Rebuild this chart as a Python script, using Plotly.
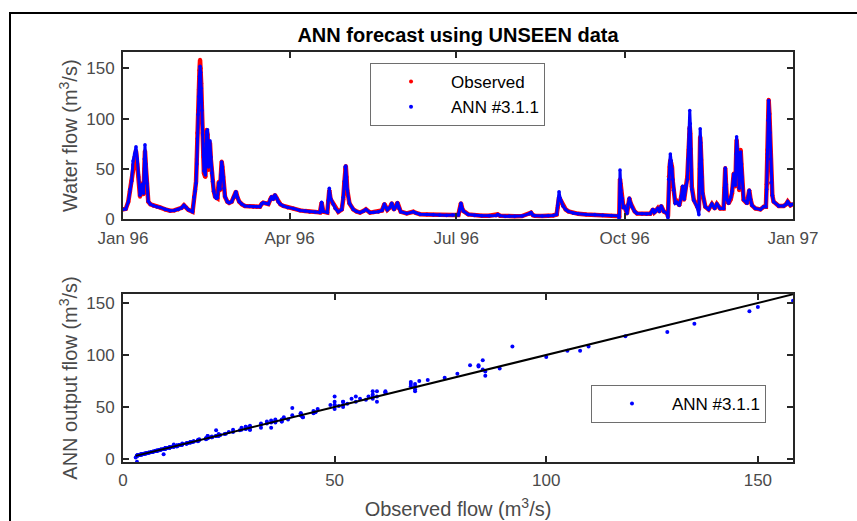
import pandas as pd
import plotly.graph_objects as go

# ---------------- data ----------------
day_of_year = [
    0.0, 1.5, 2.9, 3.8, 4.7, 5.5, 6.3, 7.1, 7.8, 8.5, 9.3, 10.0, 10.5, 11.2, 11.6, 12.0, 12.5, 13.0, 13.8,
    15.0, 16.6, 18.5, 20.2, 23.0, 25.7, 28.0, 30.2, 32.0, 33.3, 34.5, 35.7, 38.0, 38.8, 39.4, 39.9, 40.3,
    40.6, 41.0, 41.4, 41.8, 42.1, 42.4, 42.7, 43.1, 43.5, 43.9, 44.2, 45.0, 45.4, 45.7, 46.2, 46.7, 47.1,
    47.5, 48.0, 48.5, 49.0, 49.6, 50.3, 51.0, 51.6, 52.3, 52.7, 53.0, 53.5, 53.9, 54.3, 54.8, 55.2, 55.7,
    57.0, 58.0, 59.4, 60.5, 61.7, 62.5, 63.5, 65.0, 66.6, 69.0, 71.2, 73.0, 74.8, 75.8, 76.6, 78.0, 79.4,
    80.5, 81.2, 82.0, 83.0, 84.0, 84.8, 86.0, 87.6, 90.0, 93.0, 96.7, 99.5, 102.0, 105.0, 107.6, 108.5,
    109.4, 111.6, 112.2, 112.7, 113.4, 114.9, 116.0, 117.6, 119.5, 120.3, 120.9, 121.3, 121.7, 122.1,
    122.5, 123.7, 125.8, 127.5, 129.5, 131.5, 132.7, 134.9, 137.0, 139.5, 141.5, 142.8, 143.6, 144.4,
    145.8, 146.8, 148.0, 149.0, 149.9, 150.8, 151.7, 155.0, 158.6, 160.0, 162.2, 166.0, 169.5, 173.0,
    176.8, 180.0, 183.2, 184.0, 184.6, 185.3, 185.9, 188.6, 192.0, 196.0, 200.0, 203.8, 204.7, 206.0,
    208.7, 211.0, 214.0, 218.0, 222.0, 222.9, 224.0, 225.0, 229.0, 232.3, 235.0, 236.9, 237.5, 238.2,
    238.8, 239.3, 240.5, 241.8, 243.3, 246.0, 248.7, 253.0, 257.8, 262.0, 266.9, 270.6, 271.1, 271.5,
    271.8, 272.0, 272.6, 273.3, 274.0, 275.3, 276.0, 276.6, 277.3, 278.0, 279.5, 280.8, 283.5, 286.0,
    288.0, 289.5, 290.2, 290.8, 292.1, 293.0, 294.0, 295.4, 297.2, 297.7, 298.1, 298.6, 299.0, 299.5,
    299.9, 300.3, 300.8, 301.7, 302.6, 303.9, 305.0, 305.7, 306.5, 307.5, 308.3, 308.7, 309.0, 309.3,
    309.6, 309.9, 310.1, 310.4, 310.7, 311.8, 313.6, 314.6, 315.0, 315.3, 315.6, 315.9, 316.2, 316.6,
    318.1, 319.9, 321.7, 323.2, 324.4, 326.2, 328.1, 328.6, 329.0, 329.4, 329.9, 330.8, 332.0, 332.7,
    333.6, 334.0, 334.5, 334.9, 335.2, 335.6, 336.0, 336.6, 337.0, 337.4, 337.8, 338.1, 339.0, 340.9,
    341.6, 342.1, 342.8, 343.6, 345.4, 348.2, 350.0, 351.2, 351.6, 352.0, 352.4, 352.7, 353.1, 353.4,
    353.8, 354.1, 354.7, 355.4, 358.2, 360.9, 362.2, 363.1, 364.6, 365.5,
]
observed_flow = [
    10, 10.5, 17.7, 28, 39, 54, 62, 68, 55, 42, 22.6, 30, 36, 25, 50, 68, 52, 36, 17.7,
    15, 13.7, 12.5, 12, 10, 8.7, 9, 10, 11.5, 14, 12, 9.6, 7.7, 22.6, 30, 37.5, 60,
    85.6, 108, 128.6, 148, 158.3, 150, 135, 110, 85.6, 62, 46, 42, 70, 89, 84, 49, 62,
    76, 59, 45, 37.5, 28, 22.6, 21, 21, 37.5, 35, 29, 45, 57.4, 52, 42, 30, 22.6,
    17.7, 16.5, 17.7, 22, 27.6, 22, 17.7, 15, 13.4, 13, 12.7, 12.5, 12.7, 15.5, 16.7, 16, 15.3,
    20, 22.6, 20, 24.3, 21, 17.7, 15, 13.4, 12, 11, 9, 8.3, 7.7, 7.3, 7, 16.7,
    7.7, 6.8, 18, 29, 20, 15, 11, 7.7, 10, 20, 36, 50, 53, 42,
    29, 16, 10, 8, 6.8, 8.5, 10, 6.8, 7.2, 7.7, 9, 15.3, 12, 9.6,
    12, 16, 10, 12.5, 16.7, 11, 7.7, 6, 7.7, 6.5, 5.3, 5, 4.6, 4.5,
    4.3, 4.4, 4.5, 10, 16, 11, 8.5, 5, 4.2, 3.6, 3.8, 4, 5, 3.8,
    3.3, 3.4, 3.3, 3.4, 5.8, 6.8, 4.2, 3.6, 3.5, 3.6, 4, 5, 12, 22,
    20, 18, 13, 10, 8, 6.5, 5.6, 5, 4.6, 4.2, 3.6, 3.6, 3.3, 40,
    34, 29, 20, 12.7, 12.7, 6, 14, 21, 16, 12.7, 8, 6, 5.6, 5.5,
    5.6, 10, 7, 8, 11, 8, 13.4, 8, 6, 3, 42.5, 52, 59, 56,
    52, 38, 29, 16, 17.7, 14, 23, 32.6, 19.6, 34, 42.5, 58, 69, 84,
    92, 85, 69, 50, 32.6, 19.6, 12.7, 9.6, 50, 82, 72, 59, 42, 26,
    12.7, 10, 15.3, 11, 15.3, 11, 11, 30, 51, 35, 19.6, 16, 20, 26,
    45.5, 40, 32.6, 60, 79, 68, 59, 29, 50, 69, 55, 42, 19.6, 16,
    22, 29, 20, 14, 11, 10, 12.7, 12.7, 35, 69, 100, 118.7, 105, 85,
    60, 36, 24, 17.7, 13.4, 13.4, 15, 17.7, 14, 15,
]
ann_flow = [
    10, 10.5, 17.5, 30, 38, 58, 65, 72, 60, 44, 24, 28, 35, 26, 60, 74, 55, 36, 18,
    15, 13.5, 12.5, 12, 10, 8.7, 9, 10, 11.5, 14, 12, 9.6, 7.7, 22, 28, 36, 55,
    80, 104, 122, 142, 152, 146, 130, 108, 84, 64, 48, 44, 75, 87, 89, 52, 64,
    78, 62, 46, 38, 28, 22.6, 21, 21.5, 36, 37, 30, 44, 57, 52, 42, 31, 23,
    17.7, 16.5, 17.7, 22, 27.6, 22, 17.7, 15, 13.4, 13, 12.7, 12.5, 12.7, 15.5, 16.7, 16, 15.3,
    20, 22.6, 20, 24.3, 21, 17.7, 15, 13.4, 12, 11, 9, 8.3, 7.7, 7.3, 7, 17,
    8, 6.8, 19, 31, 21, 15, 11, 7.7, 10, 22, 38, 52, 53, 42,
    30, 16, 10, 8, 6.8, 8.5, 10, 6.8, 7.2, 7.7, 9, 15.3, 12, 9.6,
    12, 16, 10, 12.5, 16.7, 11, 7.7, 6, 7.7, 6.5, 5.3, 5, 4.6, 4.5,
    4.3, 4.4, 4.5, 10.5, 16, 11, 8.5, 5, 4.2, 3.6, 3.8, 4, 5, 3.8,
    3.3, 3.4, 3.3, 3.4, 5.8, 6.8, 4.2, 3.6, 3.5, 3.6, 4, 5, 14, 27.6,
    21, 18, 13, 10, 8, 6.5, 5.6, 5, 4.6, 4.2, 3.6, 3.6, -2.6, 49,
    36, 29, 21, 12, 12.7, 6, 15, 21, 16, 12.7, 8, 6, 5.6, 5.5,
    5.6, 10, 7, 8, 11, 8, 13.4, 8, 6, 1.5, 40, 55, 65, 58,
    50, 40, 29, 16, 17, 14, 23, 33, 20, 34, 40, 60, 72, 90,
    108, 95, 70, 48, 30, 19, 12.7, 4.6, 55, 90, 76, 60, 42, 26,
    12.7, 10, 15.3, 11, 15.3, 11, 11, 32, 51, 35, 19.6, 16, 22, 28,
    45, 42, 34, 65, 82, 70, 58, 31, 52, 67, 55, 42, 19.6, 16,
    22, 29, 20, 14, 11, 10, 12.7, 12.7, 30, 65, 98, 118, 104, 86,
    60, 37, 24, 17.7, 13.4, 13.4, 15, 17.7, 14, 15,
]
year_start = "1996-01-01"
year_end = "1997-01-01"
date_ticks = ["1996-01-01", "1996-04-01", "1996-07-01", "1996-10-01", "1997-01-01"]
flow_ticks = [0, 50, 100, 150]

dates = pd.Timestamp(year_start) + pd.to_timedelta(pd.Series(day_of_year), unit="D")
fit_line = [min(observed_flow), max(observed_flow)]

# ---------------- styling ----------------
FONT = "Liberation Sans, Arial, Helvetica, sans-serif"
AXC = "#262626"
TXT = "#4a4a4a"

fig = go.Figure()

# top: time series
fig.add_trace(go.Scatter(x=dates, y=observed_flow, mode="lines+markers",
                         line=dict(color="#ff0000", width=4.5),
                         marker=dict(color="#ff0000", size=4),
                         showlegend=False, xaxis="x", yaxis="y"))
fig.add_trace(go.Scatter(x=dates, y=ann_flow, mode="lines+markers",
                         line=dict(color="#0000ff", width=3),
                         marker=dict(color="#0000ff", size=3.5),
                         showlegend=False, xaxis="x", yaxis="y"))
# legend entries (dots only)
fig.add_trace(go.Scatter(x=[None], y=[None], mode="markers", name="Observed",
                         marker=dict(color="#ff0000", size=4), legend="legend",
                         xaxis="x", yaxis="y"))
fig.add_trace(go.Scatter(x=[None], y=[None], mode="markers", name="ANN #3.1.1",
                         marker=dict(color="#0000ff", size=4), legend="legend",
                         xaxis="x", yaxis="y"))

# bottom: scatter
fig.add_trace(go.Scatter(x=observed_flow, y=ann_flow, mode="markers", name="ANN #3.1.1",
                         marker=dict(color="#0000ff", size=4), legend="legend2",
                         xaxis="x2", yaxis="y2"))
fig.add_trace(go.Scatter(x=fit_line, y=fit_line, mode="lines",
                         line=dict(color="black", width=2), showlegend=False,
                         xaxis="x2", yaxis="y2"))

axis_common = dict(showline=True, linecolor=AXC, linewidth=2, mirror="ticks",
                   ticks="inside", ticklen=6, tickwidth=1.5, tickcolor=AXC,
                   showgrid=False, zeroline=False, automargin=False,
                   tickfont=dict(family=FONT, size=17, color=TXT))

fig.update_layout(
    width=857, height=521,
    margin=dict(l=123, r=64, t=52, b=59, autoexpand=False),
    paper_bgcolor="white", plot_bgcolor="white",
    font=dict(family=FONT, color=TXT),
    title=dict(text="<b>ANN forecast using UNSEEN data</b>", x=0.5344, xanchor="center",
               y=1 - 35 / 521, yanchor="middle", yref="container",
               font=dict(family=FONT, size=20, color="black")),
    xaxis=dict(axis_common, domain=[0, 1], anchor="y", type="date",
               range=[year_start, year_end], tickvals=date_ticks, tickformat="%b %y",
               ticklabelstandoff=2),
    yaxis=dict(axis_common, domain=[0.5915, 1.0], anchor="x", range=[0, 166],
               tickvals=flow_ticks, ticklabelstandoff=3,
               title=dict(text="Water flow (m<sup>3</sup>/s)", standoff=3,
                          font=dict(family=FONT, size=20, color=TXT))),
    xaxis2=dict(axis_common, domain=[0, 1], anchor="y2", range=[0, 158.3],
                tickvals=flow_ticks, ticklabelstandoff=2,
                title=dict(text="Observed flow (m<sup>3</sup>/s)", standoff=13,
                           font=dict(family=FONT, size=20, color=TXT))),
    yaxis2=dict(axis_common, domain=[0, 0.4098], anchor="x2", range=[-2.9, 158.6],
                tickvals=flow_ticks, ticklabelstandoff=3,
                title=dict(text="ANN output flow (m<sup>3</sup>/s)", standoff=3,
                           font=dict(family=FONT, size=20, color=TXT))),
    legend=dict(x=0.3687, y=0.973, xanchor="left", yanchor="top", bgcolor="white",
                bordercolor="#6e6e6e", borderwidth=1, itemwidth=70,
                font=dict(family=FONT, size=17, color="black")),
    legend2=dict(x=0.6985, y=0.1878, xanchor="left", yanchor="top", bgcolor="white",
                 bordercolor="#6e6e6e", borderwidth=1, itemwidth=70,
                 font=dict(family=FONT, size=17, color="black")),
    shapes=[dict(type="rect", xref="paper", yref="paper",
                 x0=(10 - 123) / 670, x1=(870 - 123) / 670,
                 y0=-0.3, y1=(462 - 13) / 410,
                 line=dict(color="black", width=2), fillcolor="rgba(0,0,0,0)", layer="above")],
)

fig.write_html("out.html")
